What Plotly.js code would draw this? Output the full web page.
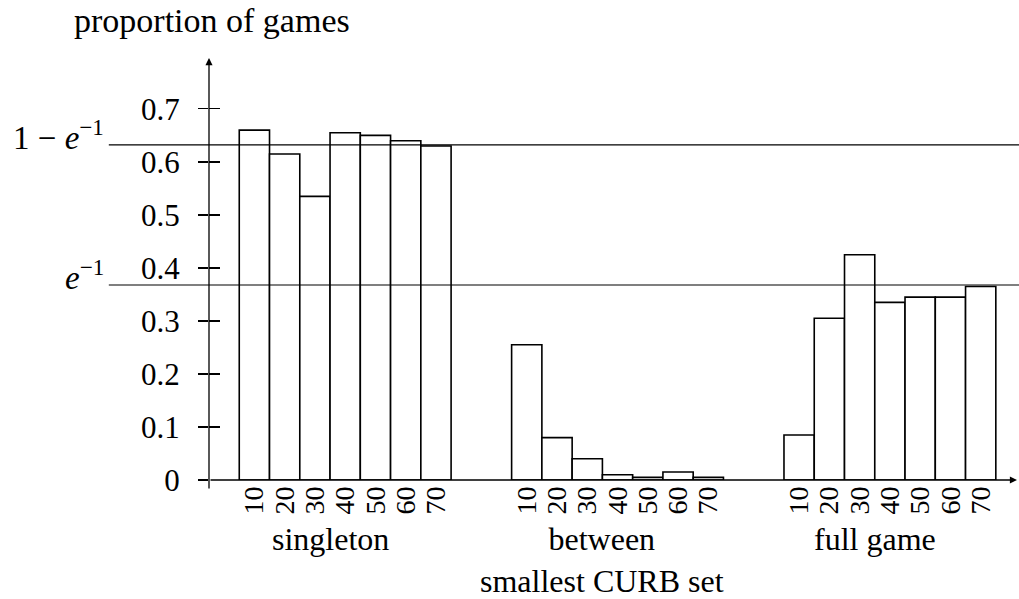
<!DOCTYPE html>
<html>
<head>
<meta charset="utf-8">
<script src="https://cdn.plot.ly/plotly-3.0.1.min.js"></script>
<style>html,body{margin:0;padding:0;background:#fff;}#chart{width:1019px;height:599px;}</style>
</head>
<body>
<div id="chart"></div>
<script>
// ---- data ----
const groups = ["singleton", "between<br>smallest CURB set", "full game"];
const sizes = ["10", "20", "30", "40", "50", "60", "70"];
const singleton = [0.66, 0.615, 0.535, 0.655, 0.65, 0.64, 0.63];
const between = [0.255, 0.08, 0.04, 0.01, 0.005, 0.015, 0.005];
const fullGame = [0.085, 0.305, 0.425, 0.335, 0.345, 0.345, 0.365];
const yTicks = [0, 0.1, 0.2, 0.3, 0.4, 0.5, 0.6, 0.7];
const refLines = [1 - Math.exp(-1), Math.exp(-1)];
const refLabels = ["1 − <i>e</i><sup>−1</sup>", "<i>e</i><sup>−1</sup>"];

// ---- build ----
const series = [singleton, between, fullGame];
const slot = 9; // slots per group (7 bars + 2 gap)
const xs = [], ys = [], tv = [], tt = [];
series.forEach((vals, g) => {
  vals.forEach((v, i) => {
    xs.push(g * slot + i);
    ys.push(v);
    tv.push(g * slot + i);
    tt.push(sizes[i]);
  });
});

const FONT = "Liberation Serif";
const ink = "#000";

const trace = {
  type: "bar",
  x: xs,
  y: ys,
  width: 1,
  marker: { color: "#fff", line: { color: ink, width: 1.6 } },
  hoverinfo: "skip",
  showlegend: false
};

const yRange = [0, 0.796];
const xRange = [-1.5, 25.2];

const annotations = [
  // y axis with arrow
  { x: xRange[0], y: yRange[1], xref: "x", yref: "y", axref: "x", ayref: "y",
    ax: xRange[0], ay: -0.019, showarrow: true, arrowhead: 2, arrowsize: 1.1,
    arrowwidth: 1.3, arrowcolor: ink, text: "" },
  // x axis with arrow
  { x: xRange[1], y: 0, xref: "x", yref: "y", axref: "x", ayref: "y",
    ax: xRange[0], ay: 0, showarrow: true, arrowhead: 2, arrowsize: 1.1,
    arrowwidth: 1.3, arrowcolor: ink, text: "" },
  { text: "proportion of games", xref: "paper", yref: "paper", x: -0.1696, y: 1.09,
    xanchor: "left", yanchor: "middle", showarrow: false,
    font: { family: FONT, size: 34, color: ink } }
];
refLines.forEach((v, k) => {
  annotations.push({ text: refLabels[k], xref: "paper", yref: "y", x: -0.127, y: v,
    xanchor: "right", yanchor: "middle", yshift: 10, showarrow: false,
    font: { family: FONT, size: 33, color: ink } });
});
groups.forEach((g, k) => {
  annotations.push({ text: g, xref: "x", yref: "paper", x: k * slot + 2.5, y: -0.093,
    xanchor: "center", yanchor: "top", align: "center", showarrow: false,
    font: { family: FONT, size: 32, color: ink } });
});

const shapes = refLines.map(v => ({
  type: "line", xref: "paper", yref: "y", x0: -0.124, x1: 1.003, y0: v, y1: v,
  line: { color: ink, width: 1.1 }, layer: "above"
}));

const layout = {
  width: 1019, height: 599,
  margin: { l: 209, r: 2, t: 58, b: 119 },
  paper_bgcolor: "#fff", plot_bgcolor: "#fff",
  bargap: 0,
  font: { family: FONT, color: ink },
  xaxis: {
    range: xRange, showgrid: false, zeroline: false, showline: false,
    tickmode: "array", tickvals: tv, ticktext: tt, tickangle: -90,
    ticks: "", tickfont: { family: FONT, size: 28, color: ink }, fixedrange: true
  },
  yaxis: {
    range: yRange, showgrid: false, zeroline: false, showline: false,
    tickmode: "array", tickvals: yTicks, ticktext: yTicks.map(v => String(v)),
    ticks: "outside", ticklen: 10, tickwidth: 1.2, tickcolor: ink,
    ticklabelstandoff: 12,
    tickfont: { family: FONT, size: 31, color: ink }, fixedrange: true
  },
  yaxis2: {
    range: yRange, overlaying: "y", side: "left", showgrid: false, zeroline: false,
    showline: false, tickmode: "array", tickvals: yTicks, showticklabels: false,
    ticks: "inside", ticklen: 11, tickwidth: 1.2, tickcolor: ink, fixedrange: true
  },
  annotations: annotations,
  shapes: shapes
};

const dummy = { type: "scatter", x: [xRange[0]], y: [0], yaxis: "y2", mode: "markers",
  marker: { opacity: 0 }, hoverinfo: "skip", showlegend: false };

Plotly.newPlot("chart", [trace, dummy], layout, { displayModeBar: false, staticPlot: true });
</script>
</body>
</html>
